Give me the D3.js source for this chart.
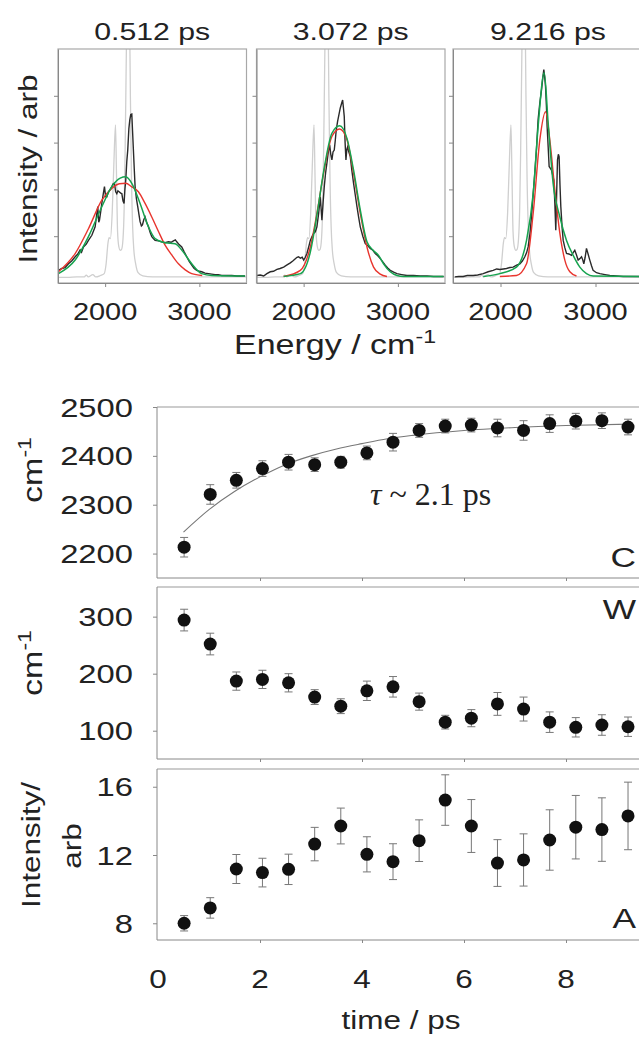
<!DOCTYPE html>
<html lang="en">
<head>
<meta charset="UTF-8">
<title>Spectral dynamics</title>
<script src="https://d3js.org/d3.v7.min.js"></script>
<style>
  body { margin: 0; background: #fff; }
  svg { display: block; font-family: "Liberation Sans", Arial, sans-serif; }
  .axis path, .axis line { stroke: #888; }
</style>
</head>
<body>
<div id="chart"></div>
<script>
// ---- spectra (energy cm-1, intensity arb) ----
const delays = ["0.512 ps", "3.072 ps", "9.216 ps"];
const energyTicks = [2000, 3000];
const intensityTicks = [1, 2, 3, 4];

const refSpectrum = [[1500,0.12],[1600,0.12],[1700,0.13],[1780,0.13],[1800,0.17],[1820,0.13],[1870,0.18],[1900,0.13],[1950,0.16],[1990,0.2],[2010,0.4],[2030,0.85],[2042,0.97],[2056,0.95],[2075,1.5],[2092,2.5],[2110,3.38],[2120,2.4],[2132,1.1],[2145,0.78],[2160,0.7],[2175,0.72],[2190,0.95],[2202,1.6],[2212,2.8],[2222,4.4],[2232,6.0],[2245,7.0],[2258,6.0],[2268,4.0],[2280,2.2],[2292,1.2],[2305,0.7],[2325,0.4],[2350,0.22],[2400,0.15],[2500,0.13],[3500,0.13]];

const expt1 = [[1505,0.27],[1540,0.31],[1575,0.33],[1611,0.41],[1645,0.47],[1682,0.56],[1710,0.62],[1735,0.71],[1750,0.66],[1770,0.77],[1800,0.83],[1823,0.91],[1859,1.02],[1894,1.2],[1910,1.45],[1922,1.63],[1932,1.3],[1940,1.34],[1955,1.55],[1965,1.7],[1980,1.9],[1993,2.06],[2005,1.85],[2018,1.84],[2035,1.95],[2055,2.0],[2071,2.06],[2085,2.12],[2099,2.13],[2112,1.95],[2124,1.91],[2136,1.97],[2148,1.95],[2165,1.92],[2177,1.91],[2190,1.75],[2201,1.7],[2210,2.0],[2219,2.2],[2230,2.6],[2240,2.84],[2252,3.3],[2262,3.49],[2272,3.6],[2283,3.61],[2292,3.2],[2300,2.84],[2310,2.4],[2318,2.06],[2332,1.8],[2346,1.63],[2360,1.45],[2371,1.31],[2385,1.22],[2396,1.24],[2410,1.35],[2424,1.41],[2440,1.3],[2460,1.2],[2478,1.08],[2495,0.99],[2512,0.95],[2530,0.91],[2565,0.9],[2601,0.88],[2636,0.86],[2672,0.88],[2700,0.87],[2725,0.9],[2745,0.92],[2760,0.88],[2785,0.82],[2813,0.77],[2840,0.66],[2866,0.56],[2892,0.46],[2919,0.38],[2945,0.31],[2972,0.27],[3000,0.25],[3025,0.24],[3060,0.21],[3096,0.2],[3130,0.19],[3167,0.18],[3200,0.18],[3237,0.16],[3290,0.16],[3343,0.16],[3400,0.15],[3485,0.15]];
const red1 = [[1505,0.24],[1682,0.63],[1823,1.16],[1965,1.77],[2071,2.02],[2150,2.12],[2219,2.13],[2280,2.06],[2353,1.95],[2424,1.7],[2495,1.41],[2566,1.1],[2636,0.81],[2707,0.6],[2778,0.41],[2850,0.28],[2919,0.2],[3030,0.16]];
const green1 = [[1505,0.2],[1682,0.49],[1823,0.99],[1965,1.63],[2071,2.06],[2160,2.24],[2219,2.27],[2283,2.13],[2371,1.7],[2460,1.2],[2530,0.95],[2636,0.86],[2742,0.84],[2830,0.66],[2919,0.41],[3025,0.2],[3130,0.16],[3485,0.15]];

const expt2 = [[1505,0.16],[1540,0.17],[1576,0.15],[1610,0.2],[1646,0.24],[1680,0.25],[1717,0.29],[1750,0.31],[1788,0.34],[1820,0.38],[1859,0.43],[1885,0.47],[1912,0.52],[1930,0.55],[1947,0.56],[1965,0.53],[1985,0.55],[2000,0.49],[2018,0.55],[2035,0.63],[2055,0.78],[2071,0.91],[2090,1.0],[2106,1.06],[2125,1.1],[2141,1.2],[2160,1.5],[2177,1.84],[2194,1.34],[2206,1.7],[2219,2.06],[2233,2.35],[2247,2.56],[2262,2.8],[2276,2.95],[2288,2.75],[2300,2.63],[2312,2.8],[2325,2.84],[2336,3.05],[2346,3.27],[2360,3.45],[2371,3.56],[2389,3.74],[2405,3.85],[2414,3.91],[2422,3.75],[2431,3.56],[2440,3.0],[2449,2.63],[2458,2.85],[2467,2.91],[2480,2.8],[2495,2.7],[2512,2.4],[2530,2.13],[2548,1.88],[2566,1.63],[2584,1.4],[2601,1.2],[2628,1.0],[2654,0.84],[2680,0.8],[2707,0.74],[2735,0.7],[2760,0.63],[2787,0.58],[2813,0.52],[2840,0.45],[2866,0.38],[2892,0.32],[2919,0.27],[2955,0.23],[2990,0.2],[3040,0.18],[3096,0.16],[3165,0.16],[3237,0.15],[3310,0.15],[3379,0.14],[3485,0.14]];
const red2 = [[1788,0.14],[1965,0.27],[2071,0.77],[2141,1.49],[2212,2.34],[2300,3.13],[2382,3.29],[2460,3.06],[2530,2.34],[2601,1.49],[2672,0.77],[2742,0.34],[2813,0.19],[2884,0.14]];
const green2 = [[1788,0.14],[1965,0.2],[2071,0.66],[2141,1.45],[2212,2.38],[2300,3.2],[2382,3.36],[2460,3.09],[2530,2.41],[2601,1.56],[2672,0.88],[2742,0.69],[2795,0.59],[2848,0.41],[2919,0.24],[2990,0.16],[3060,0.14],[3485,0.14]];

const expt3 = [[1519,0.13],[1560,0.14],[1607,0.14],[1650,0.16],[1712,0.16],[1760,0.17],[1818,0.2],[1870,0.24],[1923,0.27],[1960,0.3],[1993,0.29],[2030,0.3],[2063,0.31],[2100,0.33],[2133,0.34],[2170,0.38],[2204,0.41],[2230,0.47],[2256,0.56],[2275,0.65],[2291,0.77],[2310,1.05],[2326,1.41],[2344,1.9],[2361,2.34],[2380,2.9],[2396,3.49],[2414,3.85],[2432,4.13],[2446,4.4],[2456,4.56],[2465,4.4],[2474,4.2],[2483,3.8],[2491,3.34],[2502,2.9],[2512,2.49],[2525,2.45],[2537,2.41],[2550,2.3],[2561,2.2],[2572,1.7],[2582,1.13],[2591,1.9],[2600,2.63],[2609,2.75],[2617,2.7],[2626,2.1],[2635,1.63],[2648,1.2],[2660,0.91],[2678,0.75],[2695,0.63],[2720,0.62],[2747,0.59],[2765,0.65],[2782,0.7],[2800,0.6],[2817,0.49],[2835,0.52],[2853,0.56],[2865,0.5],[2877,0.41],[2891,0.55],[2905,0.74],[2922,0.62],[2940,0.49],[2958,0.37],[2975,0.27],[3010,0.22],[3046,0.2],[3100,0.18],[3151,0.16],[3220,0.15],[3291,0.14],[3360,0.14],[3432,0.14],[3500,0.14]];
const red3 = [[1993,0.14],[2168,0.16],[2274,0.41],[2344,1.49],[2414,3.06],[2474,3.66],[2519,3.06],[2572,1.99],[2625,1.06],[2677,0.49],[2730,0.24],[2800,0.15]];
const green3 = [[1818,0.14],[1993,0.2],[2168,0.34],[2274,0.91],[2344,1.91],[2396,3.34],[2460,4.49],[2502,3.41],[2554,2.13],[2625,1.41],[2695,0.91],[2765,0.59],[2835,0.34],[2905,0.2],[2975,0.15],[3500,0.14]];

// ---- fitted parameters vs delay ----
const times = [0.512, 1.024, 1.536, 2.048, 2.56, 3.072, 3.584, 4.096, 4.608, 5.12, 5.632, 6.144, 6.656, 7.168, 7.68, 8.192, 8.704, 9.216];
const centre = [2213, 2321, 2350, 2374, 2387, 2382, 2387, 2406, 2428, 2452, 2461, 2463, 2457, 2452, 2466, 2471, 2472, 2459];
const centreErr = [20, 20, 16, 16, 16, 14, 12, 14, 18, 14, 14, 14, 18, 20, 18, 16, 16, 16];
const widthW = [294, 252, 187, 190, 184, 159, 143, 170, 177, 151, 115, 122, 147, 138, 115, 106, 110, 107];
const widthErr = [19, 19, 16, 16, 16, 13, 13, 17, 18, 15, 12, 15, 20, 21, 18, 17, 18, 17];
const amp = [8.0, 8.9, 11.18, 10.97, 11.16, 12.64, 13.7, 12.04, 11.61, 12.84, 15.22, 13.7, 11.53, 11.71, 12.88, 13.63, 13.49, 14.29];
const ampErr = [0.45, 0.6, 0.85, 0.84, 0.89, 0.98, 1.05, 1.03, 1.05, 1.22, 1.48, 1.55, 1.37, 1.53, 1.77, 1.86, 1.86, 1.98];
const fitT = [0.5, 1, 1.5, 2, 2.5, 3, 3.5, 4, 4.5, 5, 6, 7, 8, 9.25];
const fitC = [2244, 2290, 2327, 2357, 2382, 2400, 2414, 2425, 2435, 2442, 2452, 2458, 2462, 2465];
const timeTicks = [0, 2, 4, 6, 8];

const W = 639, H = 1037;
const wide = 1.26;   // the original lettering is wider than Arial
const ink = "#222";

const svg = d3.select("#chart").append("svg").attr("width", W).attr("height", H);

// text helper: parts = [[string, isSuperscript], ...]
function label(x, y, parts, size, anchor, rot, fam) {
  const t = svg.append("text")
    .attr("transform", `translate(${x},${y})` + (rot ? ` rotate(${rot})` : "") + ` scale(${wide},1)`)
    .attr("text-anchor", anchor || "start")
    .attr("font-size", size)
    .attr("fill", ink);
  if (fam) t.attr("font-family", fam);
  if (typeof parts === "string") parts = [[parts, false]];
  parts.forEach(p => {
    const s = t.append("tspan").text(p[0]);
    if (p[1]) s.attr("font-size", size * 0.68).attr("dy", -size * 0.42);
  });
  return t;
}

// ---------- top row: spectra ----------
const specTop = 49, specBottom = 283;
const yI = d3.scaleLinear().domain([0, 5]).range([specBottom, specTop]);
const line = d3.line().x(d => d[0]).y(d => d[1]);

const spectra = [
  {title: delays[0], x0: 58,  x1: 246.5, expt: expt1, red: red1, green: green1},
  {title: delays[1], x0: 256.5, x1: 445, expt: expt2, red: red2, green: green2},
  {title: delays[2], x0: 453, x1: 643, expt: expt3, red: red3, green: green3}
];

spectra.forEach((p, i) => {
  const x = d3.scaleLinear().domain([1500, 3500]).range([p.x0, p.x1]);
  const g = svg.append("g");
  const clipId = "clip" + i;
  svg.append("clipPath").attr("id", clipId).append("rect")
    .attr("x", p.x0).attr("y", specTop).attr("width", p.x1 - p.x0).attr("height", specBottom - specTop);

  const plot = g.append("g").attr("clip-path", `url(#${clipId})`);
  const toPx = arr => arr.map(d => [x(d[0]), yI(d[1])]);
  const smooth = d3.line().x(d => d[0]).y(d => d[1]).curve(d3.curveMonotoneX);

  plot.append("path").attr("d", smooth(toPx(refSpectrum)))
    .attr("fill", "none").attr("stroke", "#cfcfcf").attr("stroke-width", 1.3);
  plot.append("path").attr("d", line(toPx(p.expt)))
    .attr("fill", "none").attr("stroke", "#2a2a2a").attr("stroke-width", 1.4);
  plot.append("path").attr("d", smooth(toPx(p.red)))
    .attr("fill", "none").attr("stroke", "#e8352e").attr("stroke-width", 1.4);
  plot.append("path").attr("d", smooth(toPx(p.green)))
    .attr("fill", "none").attr("stroke", "#16a34f").attr("stroke-width", 1.5);

  g.append("rect").attr("x", p.x0).attr("y", specTop)
    .attr("width", p.x1 - p.x0).attr("height", specBottom - specTop)
    .attr("fill", "none").attr("stroke", "#a8a8a8").attr("stroke-width", 1.2);

  g.append("g").attr("class", "axis").attr("transform", `translate(${p.x0},0)`)
    .call(d3.axisLeft(yI).tickValues(intensityTicks).tickSize(4).tickFormat("").tickSizeOuter(0));
  g.append("g").attr("class", "axis").attr("transform", `translate(0,${specBottom})`)
    .call(d3.axisBottom(x).tickValues(energyTicks).tickSize(4).tickFormat("").tickSizeOuter(0));

  energyTicks.forEach(e => label(x(e), 320, String(e), 23, "middle"));
  label((p.x0 + p.x1) / 2, 40, p.title, 24, "middle");
});

label(37, 169, "Intensity / arb", 25, "middle", -90);
label(335, 354, [["Energy / cm", false], ["-1", true]], 27, "middle");

// ---------- bottom: fitted parameters ----------
const xT = d3.scaleLinear().domain([0, 9.6]).range([158, 158 + 9.6 * 51]);
const left = 157, right = 645;

const rows = [
  {y0: 407, y1: 578, dom: [2150, 2500], ticks: [2200, 2300, 2400, 2500], v: centre, e: centreErr, tag: "C", tagY: 567},
  {y0: 587, y1: 759, dom: [50.4, 352], ticks: [100, 200, 300], v: widthW, e: widthErr, tag: "W", tagY: 619},
  {y0: 769, y1: 940, dom: [7.02, 17.04], ticks: [8, 12, 16], v: amp, e: ampErr, tag: "A", tagY: 928}
];

rows.forEach((r, k) => {
  const y = d3.scaleLinear().domain(r.dom).range([r.y1, r.y0]);
  const g = svg.append("g");

  g.append("line").attr("x1", left).attr("x2", right).attr("y1", r.y0).attr("y2", r.y0)
    .attr("stroke", "#999").attr("stroke-width", 1.2);

  g.append("g").attr("class", "axis").attr("transform", `translate(${left},0)`)
    .call(d3.axisLeft(y).tickValues(r.ticks).tickSize(4).tickFormat("").tickSizeOuter(0))
    .select(".domain").attr("d", `M0,${r.y0}V${r.y1}`);
  g.append("g").attr("class", "axis").attr("transform", `translate(0,${r.y1})`)
    .call(d3.axisBottom(xT).tickValues(timeTicks.slice(1)).tickSize(3).tickFormat("").tickSizeOuter(0))
    .select(".domain").attr("d", `M${left},0H${right}`);

  r.ticks.forEach(t => label(left - 24, y(t) + 9.5, String(t), 26, "end"));

  if (k === 0) {
    g.append("path")
      .attr("d", d3.line().x((d, i) => xT(d)).y((d, i) => y(fitC[i])).curve(d3.curveMonotoneX)(fitT))
      .attr("fill", "none").attr("stroke", "#777").attr("stroke-width", 1.1);
  }

  const pts = g.selectAll("g.pt").data(times).join("g").attr("class", "pt");
  pts.append("line")
    .attr("x1", d => xT(d)).attr("x2", d => xT(d))
    .attr("y1", (d, i) => y(r.v[i] - r.e[i])).attr("y2", (d, i) => y(r.v[i] + r.e[i]))
    .attr("stroke", "#777").attr("stroke-width", 1);
  [-1, 1].forEach(s => pts.append("line")
    .attr("x1", d => xT(d) - 4).attr("x2", d => xT(d) + 4)
    .attr("y1", (d, i) => y(r.v[i] + s * r.e[i])).attr("y2", (d, i) => y(r.v[i] + s * r.e[i]))
    .attr("stroke", "#777").attr("stroke-width", 1));
  pts.append("circle")
    .attr("cx", d => xT(d)).attr("cy", (d, i) => y(r.v[i]))
    .attr("r", 6.5).attr("fill", "#111");

  label(636, r.tagY, r.tag, 28, "end");
});

timeTicks.forEach(t => label(xT(t), 988, String(t), 25, "middle"));
label(401, 1029, "time / ps", 25, "middle");

label(42, 470, [["cm", false], ["-1", true]], 27, "middle", -90);
label(42, 663, [["cm", false], ["-1", true]], 27, "middle", -90);
label(40, 845, "Intensity/", 25, "middle", -90);
label(81, 846, "arb", 25, "middle", -90);

// tau annotation (serif, as in the original)
const tau = svg.append("text").attr("x", 370).attr("y", 505)
  .attr("font-family", "'Liberation Serif', 'Times New Roman', serif")
  .attr("font-size", 32).attr("fill", ink);
tau.append("tspan").attr("font-style", "italic").text("τ");
tau.append("tspan").text(" ~ 2.1 ps");
</script>
</body>
</html>
